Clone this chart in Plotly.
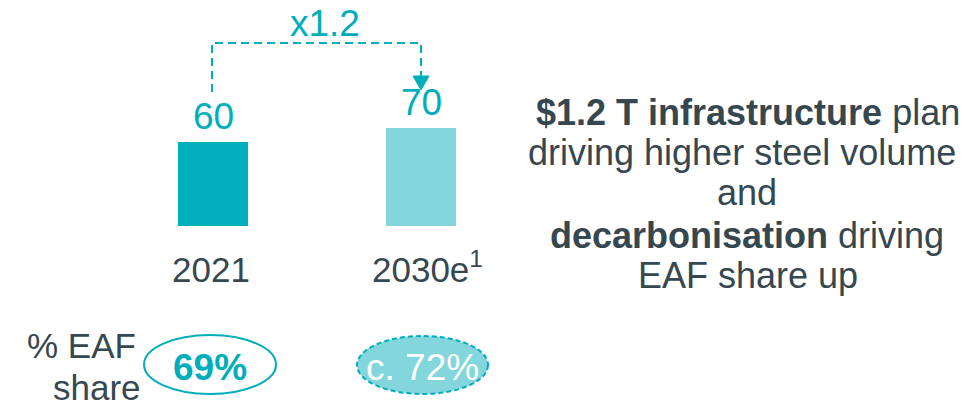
import plotly.graph_objects as go

# ---- data ----
categories = ["2021", "2030e"]
category_labels = ["2021", "2030e<sup>1</sup>"]
volumes = [60, 70]
value_labels = ["60", "70"]
growth_label = "x1.2"
eaf_share_labels = ["69%", "c. 72%"]
eaf_title_lines = ["% EAF", "share"]
note_lines = [
    "<b>$1.2 T infrastructure</b> plan",
    "driving higher steel volume",
    "and",
    "<b>decarbonisation</b> driving",
    "EAF share up",
]

# ---- style ----
W, H = 972, 406
TEAL = "#00AEBB"
LIGHT = "#84D6DD"
DARK = "#36474F"
FONT = "Liberation Sans, Arial, sans-serif"


def px(x):
    return x / W


def py(y):
    return 1 - y / H


K = 1.40  # pixels per unit
BASE_PX = 226
y_top = BASE_PX / K

xpos = list(range(len(categories)))

fig = go.Figure()
fig.add_trace(go.Bar(
    x=xpos, y=volumes,
    marker=dict(color=[TEAL, LIGHT], line=dict(width=0)),
    width=70 / 208,
    hoverinfo="skip",
))

fig.update_layout(
    width=W, height=H,
    margin=dict(l=0, r=0, t=0, b=0),
    paper_bgcolor="white", plot_bgcolor="white",
    showlegend=False,
    xaxis=dict(domain=[px(109), px(525)], range=[-0.5, 1.5], visible=False),
    yaxis=dict(domain=[py(BASE_PX), 1], range=[0, y_top], visible=False),
    font=dict(family=FONT, color=DARK),
)

ann = []
# value labels above bars
for i, (v, t) in enumerate(zip(volumes, value_labels)):
    ann.append(dict(x=i, y=v, xref="x", yref="y", text=t, showarrow=False,
                    xanchor="center", yanchor="bottom", yshift=3,
                    font=dict(size=37, color=TEAL)))
# category labels below bars (anchored on baseline)
for i, t in enumerate(category_labels):
    ann.append(dict(x=i, y=0, xref="x", yref="y", text=t, showarrow=False,
                    xanchor="center", yanchor="bottom", yshift=-65,
                    xshift=(6 if i == 1 else -2),
                    font=dict(size=35, color=DARK)))

# growth label
ann.append(dict(x=px(325), y=py(37 - 0.358 * 37), xref="paper", yref="paper",
                text=growth_label, showarrow=False, xanchor="center", yanchor="middle",
                font=dict(size=37, color=TEAL)))

# EAF title
ann.append(dict(x=px(138), y=py(358 - 0.358 * 35), xref="paper", yref="paper",
                text=eaf_title_lines[0], showarrow=False, xanchor="right", yanchor="middle",
                font=dict(size=35, color=DARK)))
ann.append(dict(x=px(143), y=py(400 - 0.358 * 35), xref="paper", yref="paper",
                text=eaf_title_lines[1], showarrow=False, xanchor="right", yanchor="middle",
                font=dict(size=35, color=DARK)))

# ellipse texts
ann.append(dict(x=px(210), y=py(381 - 0.358 * 37), xref="paper", yref="paper",
                text="<b>%s</b>" % eaf_share_labels[0], showarrow=False,
                xanchor="center", yanchor="middle",
                font=dict(size=37, color=TEAL)))
ann.append(dict(x=px(422), y=py(381 - 0.358 * 37), xref="paper", yref="paper",
                text=eaf_share_labels[1], showarrow=False,
                xanchor="center", yanchor="middle",
                font=dict(size=37, color="white")))

# note panel
note_base = [125, 165, 205, 248, 288]
note_x = [748, 742, 747, 747, 748]
for t, b, x in zip(note_lines, note_base, note_x):
    ann.append(dict(x=px(x), y=py(b - 0.358 * 36), xref="paper", yref="paper",
                    text=t, showarrow=False, xanchor="center", yanchor="middle",
                    font=dict(size=36, color=DARK)))

shapes = []
# dashed connector
path = "M %f,%f L %f,%f L %f,%f L %f,%f" % (px(212), py(92), px(212), py(43),
                                           px(421), py(43), px(421), py(77))
shapes.append(dict(type="path", path=path, xref="paper", yref="paper",
                   line=dict(color=TEAL, width=2, dash="8px,5px")))
tri = "M %f,%f L %f,%f L %f,%f Z" % (px(413), py(76), px(429), py(76), px(421), py(90))
shapes.append(dict(type="path", path=tri, xref="paper", yref="paper",
                   fillcolor=TEAL, line=dict(color=TEAL, width=1)))
# ellipses
shapes.append(dict(type="circle", xref="paper", yref="paper",
                   x0=px(144), x1=px(276), y0=py(394), y1=py(335),
                   fillcolor="white", line=dict(color=TEAL, width=2), layer="below"))
shapes.append(dict(type="circle", xref="paper", yref="paper",
                   x0=px(357), x1=px(488), y0=py(394), y1=py(336),
                   fillcolor=LIGHT, line=dict(color=TEAL, width=2, dash="5px,3px"),
                   layer="below"))

fig.update_layout(annotations=ann, shapes=shapes)
fig.write_html("out.html", config={"displayModeBar": False},
               post_script="document.body.style.margin='0px';document.body.style.overflow='hidden';")
